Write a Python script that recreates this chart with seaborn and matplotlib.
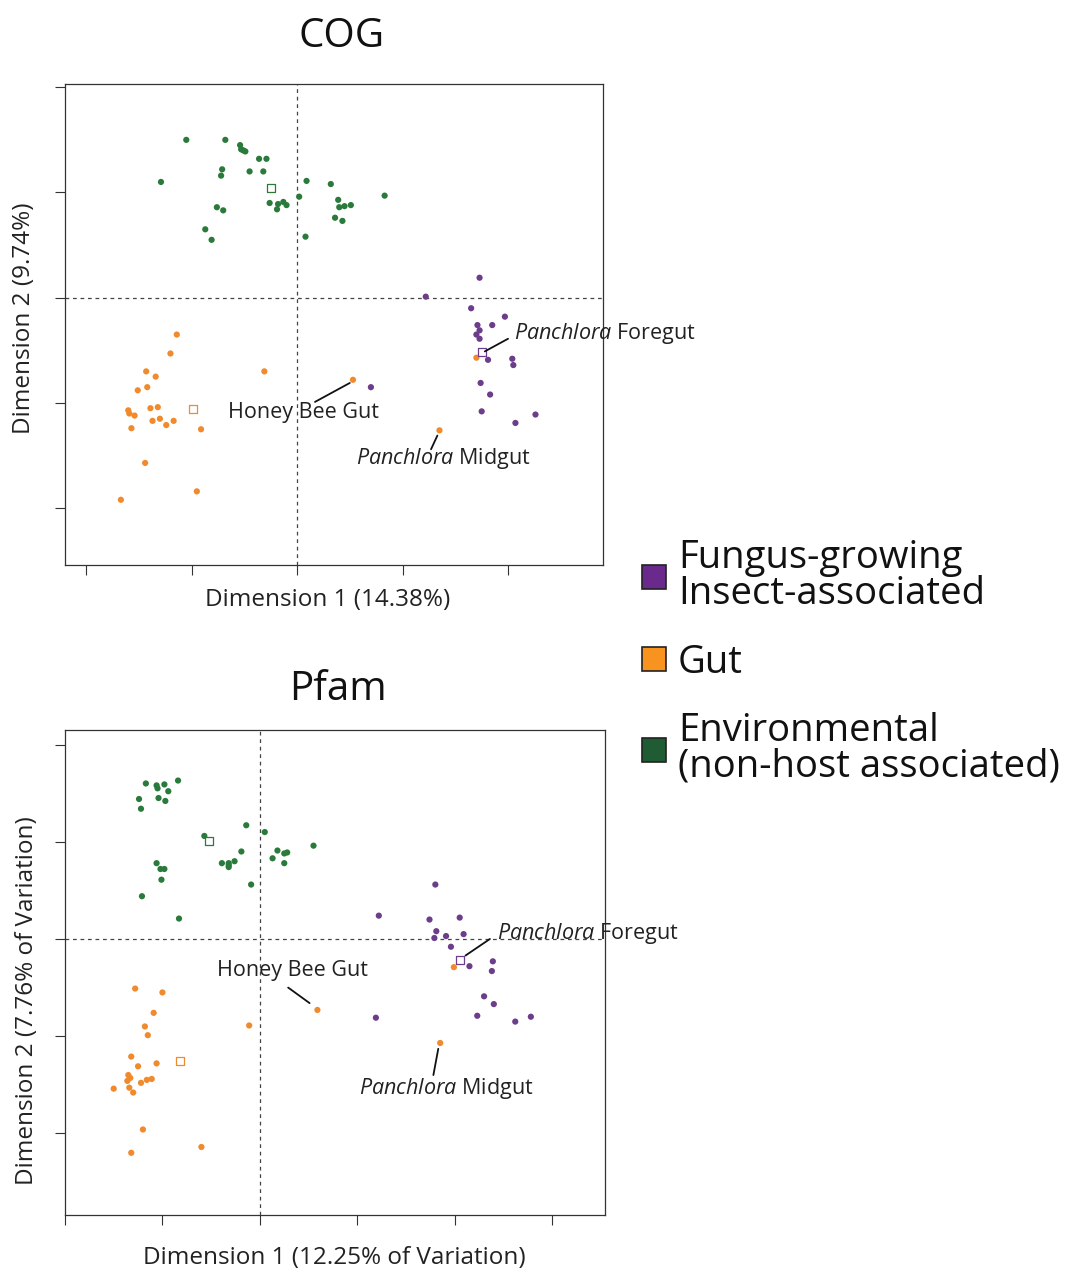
import numpy as np
import pandas as pd
import matplotlib
matplotlib.use("Agg")
import matplotlib.pyplot as plt
from matplotlib.lines import Line2D
import seaborn as sns

# ---------------- data: ordination coordinates ----------------
GROUPS = ["Fungus-growing\nInsect-associated", "Gut", "Environmental\n(non-host associated)"]

# COG
cog_env_x = [-1.05, -0.68, -0.54, -0.53, -0.51, -0.49, -0.36, -0.29, -0.71, -0.72, -0.45,
             -0.32, -1.29, 0.09, 0.32, 0.83, 0.02, 0.39, 0.40, 0.45, 0.51, 0.36, 0.43,
             -0.26, -0.18, -0.13, -0.10, -0.19, -0.76, -0.70, -0.87, -0.81, 0.08]
cog_env_y = [1.50, 1.50, 1.45, 1.41, 1.40, 1.39, 1.32, 1.32, 1.22, 1.16, 1.20,
             1.20, 1.10, 1.11, 1.08, 0.97, 0.96, 0.93, 0.86, 0.87, 0.88, 0.76, 0.73,
             0.90, 0.89, 0.91, 0.88, 0.84, 0.86, 0.83, 0.65, 0.55, 0.58]
cog_gut_x = [-1.14, -1.20, -1.43, -1.34, -1.42, -1.51, -0.31, 0.53, -1.60, -1.59, -1.54,
             -1.39, -1.32, -1.37, -1.30, -1.17, -1.24, -1.57, -0.91, -1.44, -0.95, -1.67,
             1.70, 1.35]
cog_gut_y = [-0.35, -0.53, -0.70, -0.75, -0.85, -0.88, -0.70, -0.78, -1.07, -1.10, -1.12,
             -1.05, -1.04, -1.17, -1.15, -1.17, -1.21, -1.24, -1.25, -1.57, -1.84, -1.92,
             -0.57, -1.26]
cog_fgi_x = [1.73, 1.22, 1.65, 1.97, 1.71, 1.85, 1.73, 1.70, 1.73, 1.81, 2.04, 2.05,
             1.74, 1.83, 1.75, 2.26, 2.07, 0.70]
cog_fgi_y = [0.19, 0.01, -0.10, -0.18, -0.26, -0.26, -0.31, -0.35, -0.39, -0.59, -0.58, -0.64,
             -0.81, -0.92, -1.08, -1.11, -1.19, -0.85]
cog_centroid_x = [1.75, -0.99, -0.25]
cog_centroid_y = [-0.52, -1.06, 1.04]

# Pfam
pfam_env_x = [-1.17, -1.06, -1.05, -0.98, -0.84, -0.94, -1.24, -1.04, -0.97, -1.22, -0.14,
              0.05, -0.57, 0.55, 0.18, 0.13, 0.25, 0.28, 0.25, -0.19, -0.26, -0.39, -0.32,
              -0.32, -0.32, -0.09, -1.06, -1.02, -0.98, -1.01, -1.21, -0.83]
pfam_env_y = [1.60, 1.58, 1.55, 1.59, 1.63, 1.52, 1.44, 1.45, 1.42, 1.34, 1.17,
              1.10, 1.06, 0.96, 0.91, 0.83, 0.88, 0.89, 0.78, 0.90, 0.80, 0.78, 0.78,
              0.76, 0.74, 0.56, 0.78, 0.72, 0.72, 0.61, 0.44, 0.21]
pfam_gut_x = [-1.28, -1.00, -1.09, -1.18, -0.11, 0.59, -1.15, -1.32, -1.06, -1.25, -1.35,
              -1.33, -1.36, -1.16, -1.11, -1.22, -1.50, -1.34, -1.30, -1.20, -0.60, -1.32,
              1.99, 1.85]
pfam_gut_y = [-0.51, -0.55, -0.76, -0.90, -0.89, -0.73, -0.99, -1.21, -1.28, -1.31, -1.40,
              -1.43, -1.46, -1.45, -1.44, -1.48, -1.54, -1.53, -1.58, -1.96, -2.14, -2.20,
              -0.29, -1.07]
pfam_fgi_x = [1.80, 1.22, 1.74, 2.05, 1.81, 1.79, 1.91, 2.09, 1.96, 2.15, 2.39, 2.38,
              2.30, 2.40, 2.23, 2.62, 2.78, 1.19]
pfam_fgi_y = [0.56, 0.24, 0.20, 0.22, 0.08, 0.01, 0.03, 0.05, -0.08, -0.28, -0.23, -0.33,
              -0.59, -0.67, -0.79, -0.85, -0.80, -0.81]
pfam_centroid_x = [2.05, -0.82, -0.52]
pfam_centroid_y = [-0.22, -1.26, 1.01]

# ---------------- styling ----------------
point_colors = {GROUPS[0]: "#6c3d8b", GROUPS[1]: "#f08a2c", GROUPS[2]: "#2a7a3b"}
legend_colors = ["#6a2a8c", "#f7931e", "#1f5c33"]

sns.set_theme(style="white")
plt.rcParams["font.family"] = ["Open Sans", "DejaVu Sans"]
plt.rcParams["mathtext.fontset"] = "custom"
plt.rcParams["mathtext.rm"] = "Open Sans"
plt.rcParams["mathtext.it"] = "Open Sans:italic"
plt.rcParams["text.color"] = "#222222"

fig = plt.figure(figsize=(10.72, 12.72), dpi=100)
ax_cog = fig.add_axes([0.0606, 0.5558, 0.5019, 0.3781])
ax_pfam = fig.add_axes([0.0606, 0.0448, 0.5037, 0.3813])


def frame(env_x, env_y, gut_x, gut_y, fgi_x, fgi_y):
    parts = []
    for name, xs, ys in ((GROUPS[2], env_x, env_y), (GROUPS[1], gut_x, gut_y),
                         (GROUPS[0], fgi_x, fgi_y)):
        parts.append(pd.DataFrame({"dim1": xs, "dim2": ys, "group": name}))
    return pd.concat(parts, ignore_index=True)


def draw_panel(ax, df, cx, cy, xlim, ylim):
    ax.axvline(0, color="#444444", lw=0.9, ls=(0, (3, 3)), zorder=1)
    ax.axhline(0, color="#444444", lw=0.9, ls=(0, (3, 3)), zorder=1)
    sns.scatterplot(data=df, x="dim1", y="dim2", hue="group", palette=point_colors,
                    s=20, edgecolor="none", linewidth=0, legend=False, ax=ax, zorder=3)
    for gx, gy, g in zip(cx, cy, GROUPS):
        ax.scatter([gx], [gy], marker="s", s=26, facecolors="white",
                   edgecolors=point_colors[g], linewidths=0.9, zorder=4)
    ax.set_xlim(*xlim)
    ax.set_ylim(*ylim)
    ax.set_xticks(np.arange(np.ceil(xlim[0]), xlim[1] + 1e-9, 1.0))
    ax.set_yticks(np.arange(np.ceil(ylim[0]), ylim[1] + 1e-9, 1.0))
    ax.tick_params(axis="both", which="both", direction="out", length=7.5, width=0.8,
                   color="#333333", labelbottom=False, labelleft=False,
                   bottom=True, left=True)
    for sp in ax.spines.values():
        sp.set_visible(True)
        sp.set_color("#333333")
        sp.set_linewidth(0.9)


def label(ax, text, tx, ty, lx0, ly0, lx1, ly1, ha="center"):
    ax.text(tx, ty, text, ha=ha, va="center", fontsize=15.5, color="#222222", zorder=5)
    ax.plot([lx0, lx1], [ly0, ly1], color="#111111", lw=1.3, zorder=5)


# COG panel
df_cog = frame(cog_env_x, cog_env_y, cog_gut_x, cog_gut_y, cog_fgi_x, cog_fgi_y)
draw_panel(ax_cog, df_cog, cog_centroid_x, cog_centroid_y, (-2.2, 2.9), (-2.54, 2.03))
label(ax_cog, "Honey Bee Gut", 0.06, -1.09, 0.17, -0.99, 0.50, -0.81)
label(ax_cog, r"$\mathit{Panchlora}$ Midgut", 1.39, -1.53, 1.27, -1.44, 1.33, -1.31)
label(ax_cog, r"$\mathit{Panchlora}$ Foregut", 2.06, -0.34, 2.00, -0.39, 1.78, -0.51, ha="left")
ax_cog.set_title("COG", fontsize=29, x=0.515, y=1.06, color="#111111")
ax_cog.set_xlabel("Dimension 1 (14.38%)", fontsize=17.5, color="#222222")
ax_cog.set_ylabel("Dimension 2 (9.74%)", fontsize=17.5, color="#222222")
ax_cog.xaxis.set_label_coords(0.489, -0.073)
ax_cog.xaxis.label.set_va("center")
ax_cog.yaxis.set_label_coords(-0.076, 0.514)
ax_cog.yaxis.label.set_va("center")

# Pfam panel
df_pfam = frame(pfam_env_x, pfam_env_y, pfam_gut_x, pfam_gut_y, pfam_fgi_x, pfam_fgi_y)
draw_panel(ax_pfam, df_pfam, pfam_centroid_x, pfam_centroid_y, (-2.0, 3.54), (-2.84, 2.15))
label(ax_pfam, "Honey Bee Gut", 0.33, -0.32, 0.29, -0.50, 0.51, -0.66)
label(ax_pfam, r"$\mathit{Panchlora}$ Foregut", 2.43, 0.06, 2.36, 0.0, 2.11, -0.17, ha="left")
label(ax_pfam, r"$\mathit{Panchlora}$ Midgut", 1.91, -1.54, 1.78, -1.40, 1.83, -1.13)
ax_pfam.set_title("Pfam", fontsize=29, x=0.506, y=1.045, color="#111111")
ax_pfam.set_xlabel("Dimension 1 (12.25% of Variation)", fontsize=17.5, color="#222222")
ax_pfam.set_ylabel("Dimension 2 (7.76% of Variation)", fontsize=17.5, color="#222222")
ax_pfam.xaxis.set_label_coords(0.498, -0.089)
ax_pfam.xaxis.label.set_va("center")
ax_pfam.yaxis.set_label_coords(-0.070, 0.443)
ax_pfam.yaxis.label.set_va("center")

# Legend
handles = [Line2D([0], [0], marker="s", ls="none", markersize=17,
                  markerfacecolor=c, markeredgecolor="#222222", markeredgewidth=1.2)
           for c in legend_colors]
leg = fig.legend(handles, GROUPS, loc="center left", bbox_to_anchor=(0.5825, 0.479),
                 frameon=False, fontsize=27.5, handlelength=0.75, handletextpad=0.25,
                 labelspacing=0.8, borderaxespad=0)
for t in leg.get_texts():
    t.set_linespacing(0.92)
    t.set_color("#111111")

fig.savefig("out.png", dpi=100, facecolor="white")
